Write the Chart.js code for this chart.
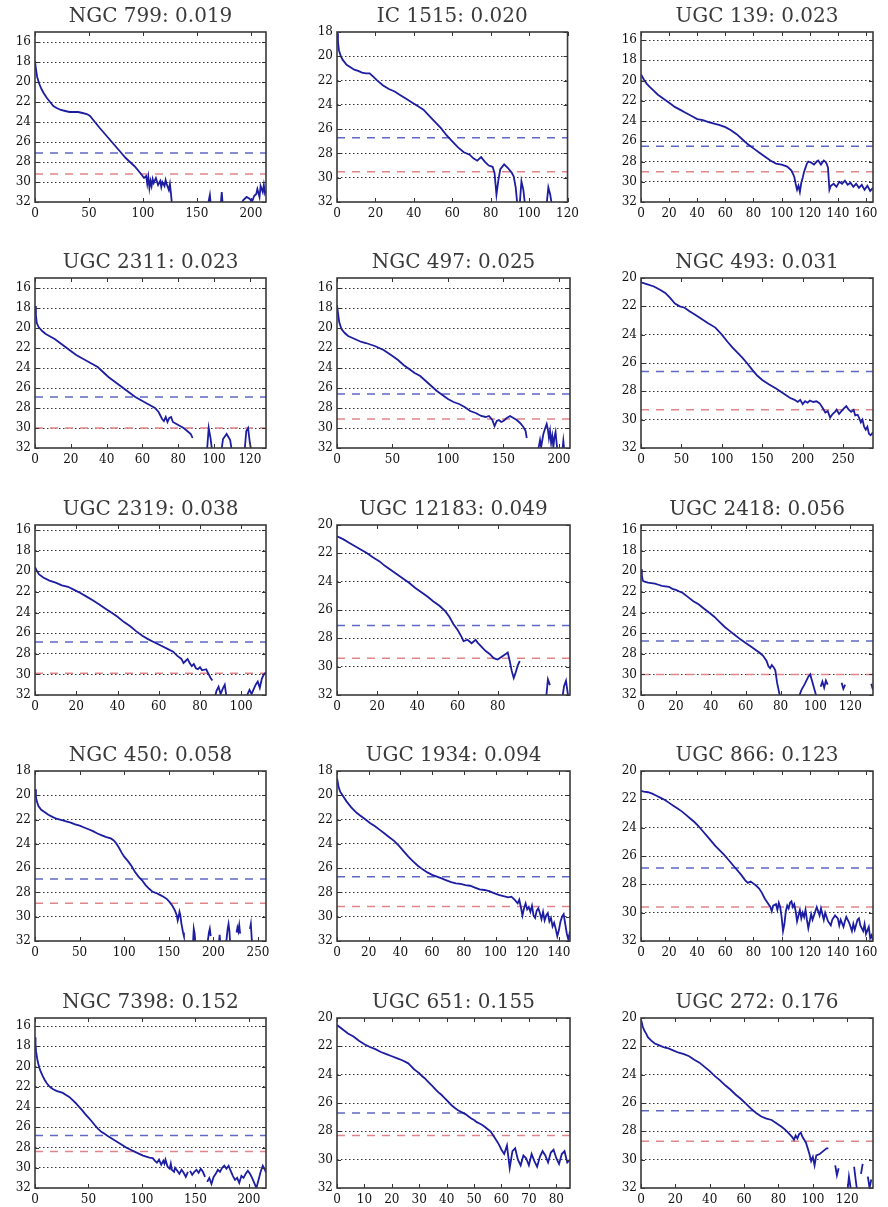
<!DOCTYPE html>
<html><head><meta charset="utf-8">
<script src="https://cdn.jsdelivr.net/npm/chart.js@4.4.1/dist/chart.umd.min.js"></script>
<style>
html,body{margin:0;padding:0;background:#fff;}
body{width:888px;height:1207px;position:relative;overflow:hidden;}
canvas.panel{position:absolute;}
</style></head><body>
<script>
// ---------- panel labels ----------
const galaxyNames = ['NGC 799','IC 1515','UGC 139','UGC 2311','NGC 497','NGC 493','UGC 2319','UGC 12183','UGC 2418','NGC 450','UGC 1934','UGC 866','NGC 7398','UGC 651','UGC 272'];
const redshifts = ['0.019','0.020','0.023','0.023','0.025','0.031','0.038','0.049','0.056','0.058','0.094','0.123','0.152','0.155','0.176'];

// ---------- axis ranges and ticks ----------
const xMaxes = [214,120,165,129,210,287,112,116,133,259,147,165,216,85,135];
const yTops  = [15,18,15.2,15,15,20,15.5,20,15.5,18,18,20,15.2,20,20];
const yBottom = 32;
const xTicksList = [
  [0,50,100,150,200],[0,20,40,60,80,100,120],[0,20,40,60,80,100,120,140,160],
  [0,20,40,60,80,100,120],[0,50,100,150,200],[0,50,100,150,200,250],
  [0,20,40,60,80,100],[0,20,40,60,80],[0,20,40,60,80,100,120],
  [0,50,100,150,200,250],[0,20,40,60,80,100,120,140],[0,20,40,60,80,100,120,140,160],
  [0,50,100,150,200],[0,10,20,30,40,50,60,70,80],[0,20,40,60,80,100,120]
];
const yTicks16 = [16,18,20,22,24,26,28,30,32];
const yTicks18 = [18,20,22,24,26,28,30,32];
const yTicks20 = [20,22,24,26,28,30,32];
const yTicksList = [yTicks16,yTicks18,yTicks16,yTicks16,yTicks16,yTicks20,yTicks16,yTicks20,yTicks16,yTicks18,yTicks18,yTicks20,yTicks16,yTicks20,yTicks20];

// ---------- limiting surface brightness levels ----------
const blueLevels = [27.1,26.7,26.5,26.9,26.6,26.6,26.85,27.1,26.75,26.9,26.7,26.85,26.8,26.7,26.55];
const redLevels  = [29.2,29.5,29.0,30.0,29.1,29.3,29.9,29.4,30.0,28.9,29.15,29.6,28.4,28.3,28.7];

// ---------- profiles (radius, surface brightness; null = gap) ----------
const ngc799_r  = [0,1,2,4,6,8,11,14,17,20,24,28,32,36,40,44,48,51,54,57,60,64,68,72,76,80,84,88,92,96,99,101,103,104,105,106,107,108,109,110,112,114,116,117,118,120,121,122,124,125,126,127,128,160,162,163,164,172,173,174,175,190,193,196,199,201,203,205,206,208,209,211,212,213,214];
const ngc799_mu = [17.9,18.8,19.5,20.2,20.7,21.1,21.6,22.0,22.4,22.6,22.8,22.9,23.0,23.0,23.0,23.1,23.2,23.4,23.8,24.2,24.6,25.1,25.6,26.1,26.6,27.1,27.6,28.0,28.4,28.9,29.3,29.6,29.4,30.2,29.5,30.6,29.9,30.4,29.7,30.1,29.6,30.3,29.9,30.5,30.0,30.4,29.8,30.2,30.8,30.2,31.2,32.4,null,32.4,31.3,32.4,null,32.4,31.0,32.4,null,32.4,31.8,31.5,31.7,32.0,31.4,31.2,30.7,31.5,30.4,31.0,30.3,31.1,30.8];

const ic1515_r  = [0,0.5,1,2,3,5,7,9,11,13,15,17,19,21,24,27,30,33,36,39,42,45,48,51,54,57,60,63,66,69,71,73,75,77,79,81,82,83,84,85,87,89,91,92,93,94,94.5,95,96,97,98,98.5,109,110,111,112];
const ic1515_mu = [18.1,18.8,19.5,20.0,20.3,20.7,20.9,21.1,21.2,21.35,21.4,21.4,21.7,22.0,22.4,22.7,22.9,23.2,23.5,23.8,24.1,24.4,24.9,25.4,25.9,26.5,27.0,27.5,27.9,28.1,28.4,28.6,28.3,28.7,29.0,29.1,29.6,31.4,30.2,29.3,28.9,29.2,29.6,29.9,30.8,32.4,null,32.4,30.3,31.0,32.4,null,32.4,30.8,31.4,32.4];

const ugc139_r  = [0,2,4,6,9,12,15,18,21,24,28,32,36,40,44,48,52,56,60,64,68,72,76,80,84,88,92,96,100,104,107,109,110,111,112,113,114,115,116,117,118,119,121,123,125,126,127,128,129,130,131,132,133,134,135,137,139,141,143,145,147,149,151,153,155,157,159,161,163,165];
const ugc139_mu = [19.4,19.9,20.3,20.6,21.0,21.4,21.7,22.0,22.3,22.6,22.9,23.2,23.5,23.8,23.9,24.1,24.25,24.4,24.6,24.9,25.3,25.8,26.3,26.7,27.1,27.5,27.9,28.2,28.3,28.5,28.9,29.5,30.2,30.8,30.4,31.0,30.1,29.6,29.0,28.6,28.2,28.0,28.1,28.3,28.0,27.9,28.1,28.3,28.1,27.9,28.0,28.2,28.6,30.8,30.4,30.2,30.5,30.0,30.2,29.9,30.3,30.1,30.5,30.2,30.6,30.3,30.8,30.4,30.9,30.6];

const ugc2311_r  = [0,0.5,1,2,4,6,8,11,14,17,20,23,26,29,32,35,38,41,44,47,50,53,56,59,62,65,67,69,71,72,73,74,75,76,77,79,81,83,85,87,88,92,96,97,98,99,101,104,105,107,109,110,113,117,118,119,120,121];
const ugc2311_mu = [17.8,18.7,19.5,19.9,20.3,20.6,20.8,21.1,21.5,21.9,22.3,22.7,23.0,23.3,23.6,23.9,24.4,24.9,25.3,25.7,26.1,26.5,26.9,27.2,27.5,27.8,28.0,28.4,29.1,29.3,28.9,29.4,29.0,28.9,29.4,29.6,29.8,30.0,30.3,30.6,31.0,null,32.4,30.0,31.0,32.4,null,32.4,31.1,30.6,31.2,32.4,null,32.4,30.3,30.0,31.5,32.4];

const ngc497_r  = [0,1,2,4,7,10,14,18,22,26,30,34,38,42,46,50,55,60,65,70,75,80,85,90,95,100,105,110,115,120,125,130,134,137,140,142,144,146,148,150,153,156,159,162,165,168,170,171,176,181,183,184,186,188,189,190,191,192,193,194,195,196,197,198,199,201,203,204,205];
const ngc497_mu = [17.7,18.6,19.4,20.1,20.5,20.8,21.0,21.2,21.4,21.5,21.65,21.8,22.0,22.2,22.5,22.8,23.2,23.7,24.1,24.5,24.8,25.3,25.8,26.3,26.7,27.1,27.4,27.6,27.9,28.3,28.5,28.8,28.9,28.8,29.2,29.8,29.3,29.2,29.4,29.3,29.0,28.8,29.0,29.2,29.5,29.9,30.3,31.0,null,32.4,31.2,31.9,30.6,29.9,29.6,30.1,31.0,30.3,31.5,30.8,31.9,30.9,30.4,31.6,32.4,null,32.4,31.3,32.4];

const ngc493_r  = [0,8,16,24,30,36,42,48,54,60,67,75,83,92,100,107,113,119,125,131,138,144,150,158,167,175,184,190,194,197,200,203,206,209,213,217,221,225,228,231,234,237,240,242,245,248,251,254,257,260,263,265,268,270,272,274,276,278,280,282,284,287];
const ngc493_mu = [20.3,20.45,20.6,20.85,21.05,21.4,21.8,22.0,22.1,22.35,22.6,22.9,23.2,23.5,24.0,24.5,24.9,25.25,25.6,26.0,26.5,26.9,27.2,27.5,27.8,28.1,28.45,28.6,28.75,28.6,28.9,28.7,28.8,28.65,28.75,28.7,28.85,29.2,29.5,29.4,29.85,29.6,29.45,29.3,29.6,29.4,29.2,29.05,29.3,29.45,29.3,29.7,29.65,29.9,30.2,30.0,30.5,30.7,30.5,31.0,31.1,30.9];

const ugc2319_r  = [0,1,2,4,7,10,13,16,19,22,25,28,31,34,37,40,43,46,49,52,55,58,61,64,67,69,71,72,73,74,75,76,77,78,79,80,81,83,84,85,86,86.5,87,88,89,90,91,92,93,98,102,104,105,107,108,109,110,111,112];
const ugc2319_mu = [19.6,20.0,20.3,20.6,20.9,21.1,21.35,21.5,21.8,22.1,22.45,22.8,23.2,23.6,24.0,24.4,24.9,25.3,25.8,26.25,26.6,26.9,27.2,27.5,27.8,28.2,28.5,28.9,28.7,28.5,28.9,29.2,29.0,29.4,29.5,29.3,29.6,29.5,29.9,30.3,30.6,null,32.4,31.6,31.2,31.9,31.4,31.0,32.4,null,32.4,31.5,31.9,31.0,30.7,31.3,30.4,30.0,29.8];

const ugc12183_r  = [0,3,6,9,12,15,18,21,24,27,30,33,36,39,42,45,48,51,54,56,58,60,62,63,65,67,69,70,72,74,76,78,80,82,84,85,86,87,88,89,90,91,98,104,105,106,110,112,113,114,115];
const ugc12183_mu = [20.8,21.0,21.25,21.5,21.75,22.0,22.3,22.55,22.9,23.2,23.5,23.8,24.1,24.45,24.75,25.05,25.4,25.7,26.1,26.5,27.0,27.4,27.9,28.2,28.1,28.35,28.1,28.3,28.6,28.9,29.1,29.4,29.5,29.3,29.1,29.0,29.6,30.3,30.8,30.4,29.9,29.6,null,32.4,30.9,31.3,null,32.4,31.4,31.0,32.0];

const ugc2418_r  = [0,0.5,1,2,4,6,8,10,12,14,16,18,20,22,24,27,30,33,36,39,42,45,48,51,54,57,60,63,66,68,70,72,73,74,75,76,77,78,79,80,85,90,92,94,96,97,98,99,100,101,102,103,104,105,106,107,110,115,116,117,125,132,133];
const ugc2418_mu = [19.8,20.4,20.9,21.0,21.1,21.15,21.2,21.3,21.4,21.45,21.5,21.7,21.8,21.95,22.1,22.5,22.9,23.2,23.6,24.0,24.4,24.9,25.4,25.8,26.2,26.6,26.95,27.3,27.65,27.9,28.2,28.7,29.2,29.4,29.1,29.3,29.6,30.8,31.6,32.4,null,32.4,31.5,30.9,30.2,30.0,30.6,31.2,31.8,32.4,null,31.2,30.7,31.3,30.6,31.0,null,30.8,31.4,31.0,null,30.9,31.5];

const ngc450_r  = [0,1,2,4,7,11,15,20,25,30,35,40,45,50,55,60,65,70,75,80,85,88,91,94,97,100,104,108,112,116,120,124,128,132,136,140,144,148,151,154,157,159,160,161,162,163,164,165,166,167,172,177,178,179,180,186,193,195,196,197,200,206,207,208,211,214,216,217,218,219,222,226,227,228,229,230,235,241,242,243,244];
const ngc450_mu = [19.5,20.1,20.5,20.9,21.2,21.4,21.6,21.8,21.95,22.05,22.15,22.25,22.4,22.5,22.65,22.8,22.95,23.15,23.3,23.45,23.55,23.7,23.95,24.3,24.7,25.05,25.4,25.8,26.3,26.7,27.0,27.4,27.7,27.95,28.05,28.2,28.35,28.55,28.8,29.1,29.5,29.9,30.3,30.0,29.6,29.9,30.5,30.9,31.3,31.6,null,32.4,31.0,31.4,32.4,null,32.4,31.3,31.0,31.6,null,32.4,31.5,32.4,null,32.4,31.0,30.6,31.2,32.4,null,31.3,30.9,31.2,30.7,31.4,null,31.0,30.6,31.8,32.4];

const ugc1934_r  = [0,1,2,4,6,9,12,15,18,21,24,27,30,33,36,39,42,45,48,51,54,57,60,63,66,69,72,75,78,81,84,87,90,93,96,99,102,105,108,110,112,114,115,116,117,118,119,120,121,122,123,124,125,126,127,128,129,130,131,132,133,134,135,136,137,138,139,140,141,142,143,144,145,146,147];
const ugc1934_mu = [18.6,19.3,19.7,20.1,20.5,21.0,21.4,21.7,22.0,22.3,22.55,22.85,23.15,23.45,23.75,24.15,24.6,25.05,25.45,25.8,26.1,26.35,26.55,26.7,26.85,27.0,27.15,27.25,27.3,27.4,27.45,27.6,27.75,27.8,27.9,28.05,28.2,28.3,28.4,28.35,28.6,28.9,28.6,29.2,29.9,29.3,28.9,29.4,29.2,29.6,29.1,29.9,30.1,29.5,29.3,29.7,30.2,29.6,30.3,29.9,29.7,30.4,30.1,30.8,30.5,31.0,31.6,31.1,30.4,30.0,29.8,30.6,31.4,31.9,31.2];

const ugc866_r  = [0,2,5,8,11,14,17,20,23,26,29,32,35,38,41,44,47,50,53,56,59,62,65,68,71,74,76,78,80,82,84,86,88,90,92,93,94,96,97,98,99,100,101,102,103,104,105,106,107,108,109,110,111,112,113,114,115,116,117,118,119,120,121,122,123,124,125,126,127,128,129,130,131,133,135,136,138,140,141,142,144,145,146,148,150,151,152,154,155,156,158,159,160,162,163,164,165];
const ugc866_mu = [21.4,21.45,21.5,21.6,21.75,21.9,22.05,22.25,22.45,22.65,22.85,23.1,23.35,23.6,23.9,24.25,24.6,24.95,25.3,25.6,25.9,26.25,26.6,26.95,27.3,27.7,27.9,27.8,27.95,28.1,28.3,28.6,29.0,29.3,29.6,29.9,29.5,29.4,29.8,29.3,29.6,30.3,31.3,30.8,29.9,29.5,29.7,29.3,29.2,29.6,29.4,29.9,30.6,30.2,29.8,30.4,30.0,30.3,29.8,30.5,31.1,30.6,30.1,30.5,30.2,29.9,29.6,29.9,30.2,29.7,30.1,30.5,30.0,30.6,30.9,30.5,30.2,30.4,30.9,30.5,31.0,30.6,30.3,30.7,31.3,30.8,31.2,30.5,30.4,30.9,31.3,30.8,31.5,31.0,31.8,31.6,32.0];

const ngc7398_r  = [0,0.5,1,2,3,4,5,7,9,11,13,15,17,20,23,26,29,32,35,38,41,44,47,50,53,56,59,62,65,68,71,74,77,80,83,86,89,92,95,98,101,104,107,110,112,114,116,118,120,121,122,124,126,127,128,130,131,133,135,137,139,141,143,144,145,147,149,151,153,155,157,159,160,161,163,165,167,169,171,173,175,177,179,181,183,185,187,189,191,193,195,197,199,201,203,205,207,209,211,213,215,216];
const ngc7398_mu = [17.1,17.8,18.5,19.2,19.7,20.1,20.4,20.9,21.3,21.65,21.9,22.1,22.25,22.4,22.5,22.6,22.8,23.0,23.3,23.6,23.95,24.3,24.7,25.05,25.4,25.8,26.15,26.45,26.65,26.85,27.05,27.25,27.45,27.65,27.85,28.05,28.2,28.35,28.5,28.65,28.8,28.9,29.0,29.05,29.3,29.5,29.2,29.7,29.3,29.6,29.2,29.9,30.1,29.6,30.2,30.4,30.0,30.3,30.6,30.2,30.5,30.9,30.4,null,30.3,30.7,30.4,30.2,30.5,30.1,30.4,30.9,null,31.4,31.0,31.6,30.9,30.6,30.2,30.4,30.0,29.8,30.1,29.8,30.3,30.8,31.2,31.0,31.5,30.8,31.0,30.6,30.3,30.6,31.0,31.5,32.0,31.2,30.4,29.8,30.2,30.5];

const ugc651_r  = [0,2,4,6,8,10,12,14,16,18,20,22,24,26,27,28,29,30,31,32,33,34,35,36,37,38,39,40,41,42,43,44,45,46,47,48,49,50,51,52,53,54,55,56,57,58,59,60,61,62,63,64,65,66,67,68,69,70,71,72,73,74,75,76,77,78,79,80,81,82,83,84,85];
const ugc651_mu = [20.5,20.8,21.1,21.3,21.6,21.85,22.05,22.2,22.4,22.55,22.7,22.85,23.0,23.2,23.4,23.6,23.75,23.9,24.1,24.25,24.45,24.65,24.85,25.05,25.25,25.4,25.6,25.8,26.0,26.2,26.35,26.5,26.6,26.7,26.8,26.95,27.1,27.2,27.35,27.45,27.55,27.7,27.85,28.0,28.3,28.6,28.9,29.3,29.6,29.0,30.6,29.4,29.2,30.0,30.4,29.7,29.9,30.4,29.6,30.1,30.5,29.8,29.4,29.7,30.2,29.5,29.3,29.9,30.3,29.6,29.4,30.2,30.0];

const ugc272_r  = [0,1,2,3,4,6,8,10,12,14,16,19,22,25,28,31,34,37,40,43,46,49,52,55,58,61,64,67,70,73,76,79,82,84,86,88,89,90,91,92,93,94,95,96,97,98,99,100,101,102,104,106,108,109,111,113,114,115,117,120,121,122,123,124,125,126,127,128,129,130,132,133,134];
const ugc272_mu = [20.1,20.6,20.9,21.1,21.35,21.6,21.8,21.9,22.0,22.1,22.15,22.3,22.45,22.55,22.7,22.95,23.15,23.45,23.75,24.1,24.4,24.75,25.05,25.4,25.7,26.05,26.4,26.7,26.95,27.1,27.2,27.45,27.7,27.9,28.15,28.4,28.6,28.3,28.5,28.2,28.1,28.4,28.6,28.8,29.2,29.6,30.1,29.8,30.4,29.7,29.6,29.4,29.2,29.2,null,30.4,31.1,30.6,null,32.4,31.2,32.0,null,30.5,31.5,32.4,null,31.0,30.3,null,31.2,32.0,31.4];

// table built from the named arrays above
const profiles = [
  [ngc799_r,ngc799_mu],[ic1515_r,ic1515_mu],[ugc139_r,ugc139_mu],
  [ugc2311_r,ugc2311_mu],[ngc497_r,ngc497_mu],[ngc493_r,ngc493_mu],
  [ugc2319_r,ugc2319_mu],[ugc12183_r,ugc12183_mu],[ugc2418_r,ugc2418_mu],
  [ngc450_r,ngc450_mu],[ugc1934_r,ugc1934_mu],[ugc866_r,ugc866_mu],
  [ngc7398_r,ngc7398_mu],[ugc651_r,ugc651_mu],[ugc272_r,ugc272_mu]
];

// ---------- layout ----------
const colLeft = [35, 337, 641];
const colWidth = [231, 233, 232];
const rowTop = [32, 278, 525, 771, 1018];
const boxHeight = 170;
const AXW = 34, TITLEH = 34, XAXH = 24, RPAD = 14;
const FONT = "'DejaVu Serif', 'Liberation Serif', serif";

const framePlugin = {
  id: 'frame',
  afterDatasetsDraw(chart) {
    const {ctx, chartArea: a, scales} = chart;
    ctx.save();
    ctx.strokeStyle = '#333';
    ctx.lineWidth = 1;
    ctx.beginPath();
    scales.x.ticks.forEach(t => {
      const px = Math.round(scales.x.getPixelForValue(t.value)) + 0.5;
      ctx.moveTo(px, a.bottom); ctx.lineTo(px, a.bottom - 4);
      ctx.moveTo(px, a.top); ctx.lineTo(px, a.top + 4);
    });
    scales.y.ticks.forEach(t => {
      const py = Math.round(scales.y.getPixelForValue(t.value)) + 0.5;
      ctx.moveTo(a.left, py); ctx.lineTo(a.left + 4, py);
      ctx.moveTo(a.right, py); ctx.lineTo(a.right - 4, py);
    });
    ctx.stroke();
    ctx.lineWidth = 1.6;
    ctx.strokeStyle = '#3a3a3a';
    ctx.strokeRect(a.left, a.top, a.right - a.left, a.bottom - a.top);
    ctx.restore();
  }
};

function makePanel(i) {
  const row = Math.floor(i / 3), col = i % 3;
  const W = AXW + colWidth[col] + RPAD, H = TITLEH + boxHeight + XAXH;
  const cv = document.createElement('canvas');
  cv.className = 'panel';
  cv.width = W; cv.height = H;
  cv.style.width = W + 'px'; cv.style.height = H + 'px';
  cv.style.left = (colLeft[col] - AXW) + 'px';
  cv.style.top = (rowTop[row] - TITLEH) + 'px';
  document.body.appendChild(cv);

  const [rr, mm] = profiles[i];
  const xmax = xMaxes[i], ymin = yTops[i];
  const xt = xTicksList[i], yt = yTicksList[i];

  new Chart(cv, {
    type: 'line',
    data: {
      datasets: [
        { data: rr.map((x, k) => ({x: x, y: mm[k]})), borderColor: '#1d1da2', borderWidth: 1.8,
          pointRadius: 0, spanGaps: false, tension: 0 },
        { data: [{x: 0, y: blueLevels[i]}, {x: xmax, y: blueLevels[i]}], borderColor: '#5f68c4',
          borderDash: [8, 7], borderWidth: 1.5, pointRadius: 0 },
        { data: [{x: 0, y: redLevels[i]}, {x: xmax, y: redLevels[i]}], borderColor: '#e0868a',
          borderDash: [8, 7], borderWidth: 1.5, pointRadius: 0 }
      ]
    },
    options: {
      responsive: false, animation: false, devicePixelRatio: 1,
      layout: { padding: { left: 0, right: RPAD, top: 0, bottom: 0 } },
      plugins: {
        legend: { display: false }, tooltip: { enabled: false },
        title: { display: true, fullSize: false, text: galaxyNames[i] + ': ' + redshifts[i],
                 font: { family: FONT, size: 20, weight: 'normal', lineHeight: 1.2 },
                 color: '#3a3a3a', padding: { top: 7, bottom: 3 } }
      },
      scales: {
        x: {
          type: 'linear', min: 0, max: xmax,
          grid: { display: false, drawTicks: false },
          border: { display: false },
          afterBuildTicks: s => { s.ticks = xt.map(v => ({value: v})); },
          afterFit: s => { s.height = XAXH; },
          ticks: { autoSkip: false, maxRotation: 0, minRotation: 0, padding: 5,
                   font: { family: FONT, size: 12 }, color: '#111' }
        },
        y: {
          type: 'linear', reverse: true, min: ymin, max: yBottom,
          afterBuildTicks: s => { s.ticks = yt.map(v => ({value: v})); },
          afterFit: s => { s.width = AXW; },
          grid: { drawTicks: false, lineWidth: 1,
                  color: c => (c.tick && (c.tick.value === yBottom || c.tick.value === ymin)) ? 'rgba(0,0,0,0)' : '#333' },
          border: { display: false, dash: [1.5, 2.5] },
          ticks: { padding: 4, font: { family: FONT, size: 12 }, color: '#111' }
        }
      }
    },
    plugins: [framePlugin]
  });
}

for (let i = 0; i < 15; i++) makePanel(i);
</script>
</body></html>
